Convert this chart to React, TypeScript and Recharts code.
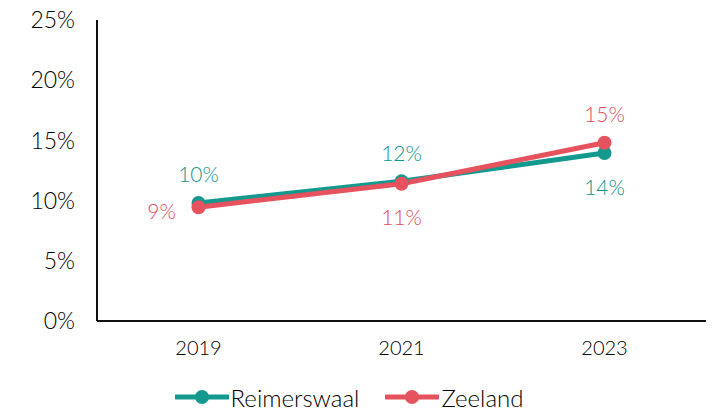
import { LineChart, Line, XAxis, YAxis, Legend, LabelList } from 'recharts'

const years = ['2019', '2021', '2023']
const reimerswaal = [9.8, 11.6, 13.95]
const zeeland = [9.45, 11.4, 14.8]
const reimerswaalLabels = ['10%', '12%', '14%']
const zeelandLabels = ['9%', '11%', '15%']
const yTicks = [0, 5, 10, 15, 20, 25]

const TEAL = '#14998f'
const RED = '#e6525d'
const FONT = "'Lato', 'Open Sans', sans-serif"

const data = years.map((y, i) => ({ year: y, reimerswaal: reimerswaal[i], zeeland: zeeland[i] }))

// label placement per point: dx, dy from the marker centre
const tealPlace = [[0, -30], [0, -29], [0, 33]]
const redPlace = [[-37, 3], [0, 33], [0, -29]]

function makeLabel(texts: string[], place: number[][], color: string) {
  return (props: any) => {
    const { x, y, index } = props
    const [dx, dy] = place[index]
    return (
      <text
        x={x + dx}
        y={y + dy}
        textAnchor="middle"
        dominantBaseline="central"
        fill={color}
        fontSize={21}
        fontWeight={300}
        fontFamily={FONT}
      >
        {texts[index]}
      </text>
    )
  }
}

function LegendContent() {
  const item = (color: string, label: string) => (
    <div style={{ display: 'flex', alignItems: 'center', marginRight: 26 }}>
      <svg width={54} height={16}>
        <line x1={1} y1={8} x2={53} y2={8} stroke={color} strokeWidth={5} strokeLinecap="round" />
        <circle cx={27} cy={8} r={7} fill={color} />
      </svg>
      <span style={{ fontSize: 24, fontWeight: 300, color: '#000', fontFamily: FONT, marginLeft: 2 }}>{label}</span>
    </div>
  )
  return (
    <div style={{ display: 'flex', justifyContent: 'center', height: 30, alignItems: 'center', paddingLeft: 18 }}>
      {item(TEAL, 'Reimerswaal')}
      {item(RED, 'Zeeland')}
    </div>
  )
}

export default function App() {
  return (
    <div style={{ position: 'absolute', left: 0, top: 0, width: 715, height: 410, background: '#fff' }}>
      <LineChart width={715} height={410} data={data} margin={{ top: 20, right: 9, left: 0, bottom: -4 }}>
        <XAxis
          dataKey="year"
          padding={{ left: 101.5, right: 101.5 }}
          axisLine={{ stroke: '#111', strokeWidth: 2 }}
          tickLine={false}
          tickMargin={14}
          height={61}
          tick={{ fill: '#000', fontSize: 20, fontWeight: 300, fontFamily: FONT }}
        />
        <YAxis
          domain={[0, 25]}
          ticks={yTicks}
          width={97}
          axisLine={{ stroke: '#111', strokeWidth: 2 }}
          tickLine={false}
          tickMargin={16}
          tickFormatter={(v: number) => `${v}%`}
          tick={{ fill: '#000', fontSize: 23, fontWeight: 300, fontFamily: FONT }}
        />
        <Legend verticalAlign="bottom" height={32} content={() => <LegendContent />} />
        <Line
          dataKey="reimerswaal"
          name="Reimerswaal"
          stroke={TEAL}
          strokeWidth={5}
          dot={{ r: 7, fill: TEAL, stroke: TEAL, strokeWidth: 0 }}
          isAnimationActive={false}
        >
          <LabelList dataKey="reimerswaal" content={makeLabel(reimerswaalLabels, tealPlace, '#0f958c')} />
        </Line>
        <Line
          dataKey="zeeland"
          name="Zeeland"
          stroke={RED}
          strokeWidth={5}
          dot={{ r: 7, fill: RED, stroke: RED, strokeWidth: 0 }}
          isAnimationActive={false}
        >
          <LabelList dataKey="zeeland" content={makeLabel(zeelandLabels, redPlace, '#e24c58')} />
        </Line>
      </LineChart>
    </div>
  )
}
